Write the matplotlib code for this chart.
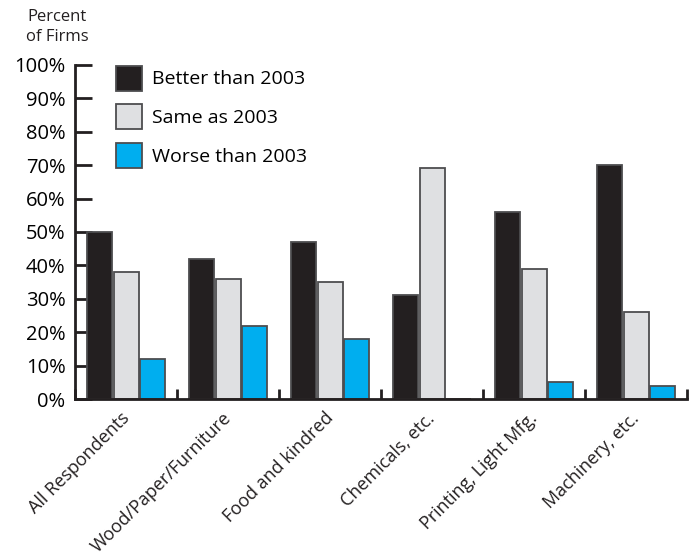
import matplotlib
matplotlib.use("Agg")
import matplotlib.pyplot as plt
import numpy as np

plt.rcParams['font.family'] = ['Open Sans', 'DejaVu Sans']

categories = ["All Respondents", "Wood/Paper/Furniture", "Food and kindred",
              "Chemicals, etc.", "Printing, Light Mfg.", "Machinery, etc."]
better = [50, 42, 47, 31, 56, 70]
same = [38, 36, 35, 69, 39, 26]
worse = [12, 22, 18, 0, 5, 4]
series_names = ["Better than 2003", "Same as 2003", "Worse than 2003"]
y_ticks = [0, 10, 20, 30, 40, 50, 60, 70, 80, 90, 100]
y_tick_labels = [f"{v}%" for v in y_ticks]

colors = ["#231f20", "#dfe0e2", "#00aeef"]
edge = "#4d4d4f"

fig = plt.figure(figsize=(6.9, 5.59), dpi=100)
ax = fig.add_axes([0.109, 0.286, 0.887, 0.598])

x = np.arange(len(categories))
w = 0.245
off = 0.26
handles = []
for vals, dx, c, name in zip([better, same, worse], [-off, 0, off], colors, series_names):
    b = ax.bar(x + dx, vals, width=w, color=c, edgecolor=edge, linewidth=1.3,
               label=name, zorder=2)
    handles.append(b)

ax.set_xlim(-0.5, len(categories) - 0.5)
ax.set_ylim(0, 100)
ax.set_yticks(y_ticks)
ax.set_yticklabels(y_tick_labels, fontsize=14.5)
ax.tick_params(axis='y', direction='in', length=12, width=2, pad=7, color="#231f20")

ax.set_xticks(np.arange(len(categories) + 1) - 0.5, minor=False)
ax.set_xticklabels([""] * (len(categories) + 1))
ax.tick_params(axis='x', direction='in', length=7, width=2, color="#231f20")
for xi, lab in zip(x, categories):
    ax.text(xi - 0.06, -3.0, lab, rotation=45, ha='right', va='top',
            rotation_mode='anchor', fontsize=13, color="#231f20",
            transform=ax.transData)

for s in ['top', 'right']:
    ax.spines[s].set_visible(False)
for s in ['left', 'bottom']:
    ax.spines[s].set_linewidth(2)
    ax.spines[s].set_color("#231f20")

fig.text(0.083, 0.92, "Percent\nof Firms", ha='center', va='bottom',
         fontsize=12, color="#231f20", linespacing=1.3)

leg = ax.legend(handles=handles, loc='upper left', bbox_to_anchor=(0.038, 1.05),
                frameon=False, fontsize=14, handlelength=1.35, handleheight=1.6,
                labelspacing=0.7, handletextpad=0.5)

fig.savefig("out.png", dpi=100)
